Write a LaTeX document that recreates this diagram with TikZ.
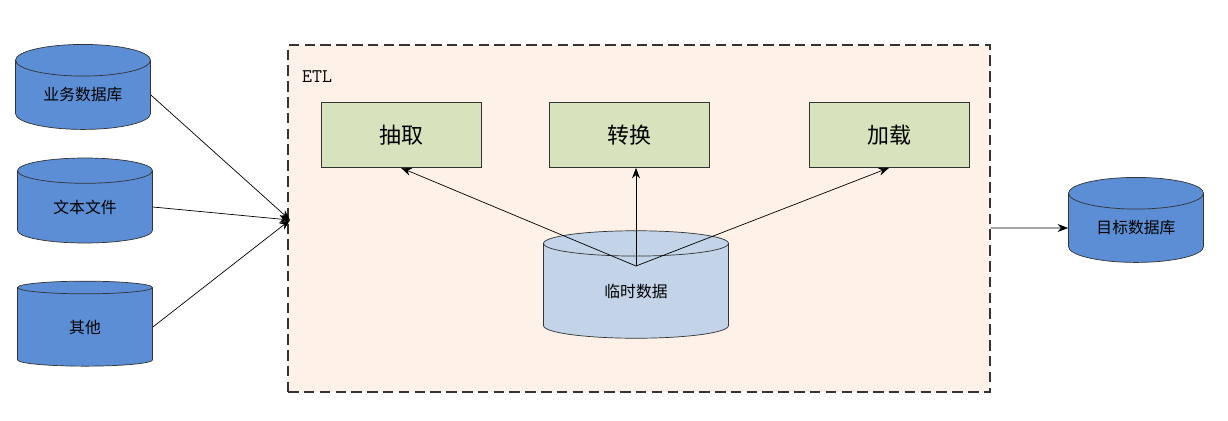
\documentclass[tikz,border=0pt]{standalone}
\usepackage{fontspec}
\newfontfamily\cjk{Noto Sans CJK SC}
\usetikzlibrary{shapes.geometric,arrows.meta}
\definecolor{dbblue}{HTML}{5B8ED4}
\definecolor{tmpblue}{HTML}{C3D4E8}
\definecolor{stagegreen}{HTML}{D6E3BC}
\definecolor{etlbg}{HTML}{FDF1E8}
\tikzset{
  db/.style={cylinder,shape border rotate=90,aspect=0.4,draw=black!80,
    fill=dbblue,font=\cjk\fontsize{9}{11}\selectfont,
    minimum width=2.7cm,minimum height=1.7cm,inner sep=0pt},
  tmp/.style={db,fill=tmpblue,minimum width=3.7cm,minimum height=2.15cm},
  stage/.style={draw=black!80,fill=stagegreen,font=\cjk\fontsize{12.5}{14}\selectfont,
    minimum width=3.2cm,minimum height=1.3cm},
  flow/.style={-{Stealth[length=6pt]},thin}
}
\begin{document}
\begin{tikzpicture}[x=0.02cm,y=-0.02cm]
\useasboundingbox (0,0) rectangle (1228,420);
\node[draw=black!80,dash pattern=on 6pt off 3pt,thick,fill=etlbg,minimum width=14.04cm,minimum height=6.94cm] (etl) at (639,218.5) {};
\node[font=\ttfamily\fontsize{11}{13}\selectfont,anchor=west] (etltxt) at (296,77) {ETL};
\node[db] (biz) at (83,95) {业务数据库};
\node[db] (txt) at (85,207) {文本文件};
\node[db] (oth) at (85,327) {其他};
\node[db] (dst) at (1136,228) {目标数据库};
\node[tmp] (tmpd) at (636,291) {临时数据};
\node[stage] (ext) at (401,135) {抽取};
\node[stage] (trf) at (629,135) {转换};
\node[stage] (lod) at (889,135) {加载};
\coordinate (in) at (290,220);
\coordinate (src) at (636,266);
\draw[flow] (biz.east) -- (in);
\draw[flow] (txt.east) -- (in);
\draw[flow] (oth.east) -- (in);
\draw[flow] (src) -- (ext.south);
\draw[flow] (src) -- (src |- ext.south);
\draw[flow] (src) -- (lod.south);
\draw[flow] (etl.east |- dst.center) -- (dst.west);
\end{tikzpicture}
\end{document}
